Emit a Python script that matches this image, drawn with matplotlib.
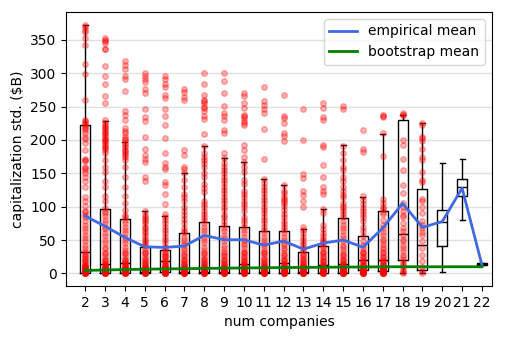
import matplotlib
matplotlib.use("Agg")
import matplotlib.pyplot as plt

num_companies = list(range(2, 23))

# box statistics per group
q1 = [0.5, 0.3, 0.3, 0.3, 2, 0.3, 0.5, 0.5, 0.5, 0.3, 0.5, 0.3, 0.3, 0.5, 4.5, 3.5, 19.7, 5, 41, 115.7, 13]
med = [31.8, 13.6, 15, 2, 18, 1.5, 2.5, 2.5, 13.6, 2.5, 15, 1.5, 12, 13.6, 20, 20, 59, 43, 77, 129, 14]
q3 = [222.7, 97, 81.8, 39.4, 35.4, 60.6, 77.8, 71, 70, 63.6, 63.6, 31.8, 41, 83, 56, 94, 230, 125.8, 95.5, 141, 15]
whislo = [0, 0, 0, 0, 0, 0, 0, 0, 0, 0, 0, 0, 0, 0, 0, 0, 0, 0, 1.5, 80, 12.5]
whishi = [372, 228.8, 197, 93, 86, 150, 191, 173, 167, 141, 132, 67, 96.5, 192, 115, 209.6, 238, 226, 165, 171, 15.5]

empirical_mean = [86, 70.7, 54, 40, 39, 41, 57, 50.5, 50.5, 42.4, 48.5, 36.4, 45.5, 50, 39.4, 68, 105, 69, 77.8, 127.8, 12.6]
bootstrap_mean = [4.5, 5.2, 5.8, 6.3, 6.8, 7.1, 7.5, 7.9, 8.2, 8.5, 8.8, 9.0, 9.3, 9.5, 9.7, 9.9, 10, 10, 10, 10, 10]

low = [0, 0, 0, 0.5, 1, 1, 1.5, 2, 2, 3, 3, 4, 5, 6, 7, 8, 9, 11, 13, 16, 19, 22, 26, 30]

points = {
    2: [372, 370, 365, 362, 353, 342, 314, 299, 260, 230, 225, 222, 218, 210, 201, 195, 185, 170, 160, 155,
        139, 129, 114, 109, 101, 94, 84, 73, 63, 53, 43, 38, 33, 28, 23, 18, 13, 10, 8, 3,
        228, 220, 215, 205, 172, 168, 158, 150, 145, 92, 88, 78, 68, 58, 48] + low,
    3: [353, 350, 348, 345, 337, 336, 311, 296, 284, 266, 255, 230, 225, 220, 215, 210, 205, 200, 195, 190,
        185, 180, 170, 160, 152, 139, 129, 116, 109, 98, 90, 80, 70, 60, 50, 40, 30, 20, 14, 10,
        222, 218, 212, 208, 202, 198, 192, 188, 94, 86, 76, 66, 56, 46, 36] + low,
    4: [318, 312, 306, 296, 292, 274, 243, 238, 230, 218, 213, 205, 200, 195, 190, 185, 180, 175, 170, 160,
        145, 130, 116, 105, 95, 88, 80, 70, 60, 50, 40, 30, 20, 15, 10,
        210, 202, 192, 183, 178, 84, 75, 65, 55, 45, 35] + low,
    5: [300, 296, 292, 287, 277, 270, 246, 235, 228, 205, 187, 178, 172, 167, 144, 139, 93, 88, 82, 75,
        68, 60, 52, 45, 38, 30, 22, 15, 10, 85, 78, 70, 64, 56, 48, 42, 34] + low,
    6: [296, 291, 284, 279, 268, 263, 246, 236, 223, 203, 180, 165, 160, 156, 137, 132, 119, 104, 89, 80,
        70, 60, 50, 40, 32, 25, 18, 12, 8, 84, 75, 65, 55, 45, 36, 28] + low,
    7: [277, 272, 264, 260, 185, 177, 160, 157, 150, 129, 119, 109, 94, 81, 68, 60, 50, 42, 35, 28,
        20, 14, 8, 140, 115, 100, 88, 75, 64, 55, 46, 38] + low,
    8: [300, 284, 268, 260, 256, 248, 243, 236, 232, 209, 191, 180, 170, 160, 144, 134, 122, 109, 99, 89,
        80, 70, 60, 50, 40, 30, 22, 15, 10, 258, 250, 175, 165, 150, 128, 104, 94, 85, 75, 65, 55, 45, 35] + low,
    9: [300, 289, 270, 251, 241, 236, 230, 215, 211, 181, 173, 165, 155, 145, 135, 125, 115, 105, 95, 88,
        78, 68, 58, 48, 38, 28, 20, 14, 8, 160, 150, 140, 130, 120, 110, 100, 84, 73, 63, 53, 43, 33] + low,
    10: [271, 266, 256, 248, 238, 233, 225, 223, 193, 185, 175, 167, 152, 134, 124, 114, 104, 94, 85, 75,
         65, 55, 45, 38, 30, 24, 18, 14, 10, 236, 228, 160, 140, 119, 109, 99, 80, 70, 60, 50, 42, 34] + low,
    11: [279, 258, 253, 246, 241, 216, 172, 141, 135, 125, 115, 105, 95, 85, 75, 65, 55, 45, 38, 30,
         22, 15, 10, 130, 120, 110, 100, 90, 80, 70, 60, 50, 42, 34] + low,
    12: [267, 236, 233, 225, 210, 206, 198, 132, 124, 115, 109, 101, 89, 79, 70, 60, 50, 42, 35, 28,
         20, 14, 8, 120, 112, 105, 95, 84, 74, 65, 55, 46, 38] + low,
    13: [247, 200, 149, 143, 124, 117, 109, 99, 69, 60, 50, 42, 35, 28, 22, 16, 11, 7, 65, 55, 46, 38] + low,
    14: [256, 248, 235, 230, 193, 190, 162, 144, 130, 124, 119, 96, 73, 61, 52, 45, 38, 30, 24, 18,
         12, 8, 90, 67, 56, 48, 41, 34] + low,
    15: [251, 247, 191, 170, 155, 139, 124, 114, 101, 94, 84, 73, 63, 53, 43, 35, 28, 20, 14, 8,
         180, 160, 145, 130, 118, 106, 98, 89, 79, 68, 58, 48, 39] + low,
    16: [215, 187, 182, 116, 104, 94, 89, 79, 63, 48, 38, 30, 24, 18, 12, 8, 110, 98, 84, 70, 56, 43, 34] + low,
    17: [237, 236, 235, 211, 176, 111, 106, 96, 89, 68, 58, 48, 40, 32, 25, 18, 12, 6,
         100, 92, 80, 72, 62, 52, 44, 36] + low,
    18: [240, 238, 237, 193, 172, 132, 106, 94, 84, 68, 58, 48, 38, 28, 20, 12, 5, 0,
         200, 155, 120, 100, 88, 75, 63, 52, 43, 33, 24, 16, 9, 2],
    19: [226, 203, 198, 187, 170, 152, 137, 109, 99, 79, 68, 58, 38, 18, 3, 0,
         222, 205, 175, 140, 112, 90, 72, 62, 48, 28, 10],
}

fig = plt.figure(figsize=(5.05, 3.39), dpi=100)
ax = fig.add_axes([0.131, 0.156, 0.843, 0.809])

stats = []
for i, n in enumerate(num_companies):
    stats.append(dict(med=med[i], q1=q1[i], q3=q3[i], whislo=whislo[i], whishi=whishi[i], fliers=[]))

black = dict(color="black", linewidth=1)
ax.bxp(stats, positions=num_companies, widths=0.5, showfliers=False,
       boxprops=black, whiskerprops=black, capprops=black, medianprops=black)

for n, vals in points.items():
    ax.scatter([n] * len(vals), vals, s=16, color="red", alpha=0.3, zorder=3)

ax.plot(num_companies, empirical_mean, color="royalblue", linewidth=2, label="empirical mean", zorder=4)
ax.plot(num_companies, bootstrap_mean, color="green", linewidth=2, label="bootstrap mean", zorder=4)

ax.set_xlim(1.04, 22.5)
ax.set_ylim(-19, 392)
ax.set_xticks(num_companies)
ax.set_xticklabels([str(n) for n in num_companies])
ax.set_yticks([0, 50, 100, 150, 200, 250, 300, 350])
ax.yaxis.grid(True, color="#e0e0e0", linewidth=1)
ax.set_axisbelow(True)
ax.set_xlabel("num companies")
ax.set_ylabel("capitalization std. ($B)")
ax.legend(loc="upper right")

fig.savefig("out.png", dpi=100)
